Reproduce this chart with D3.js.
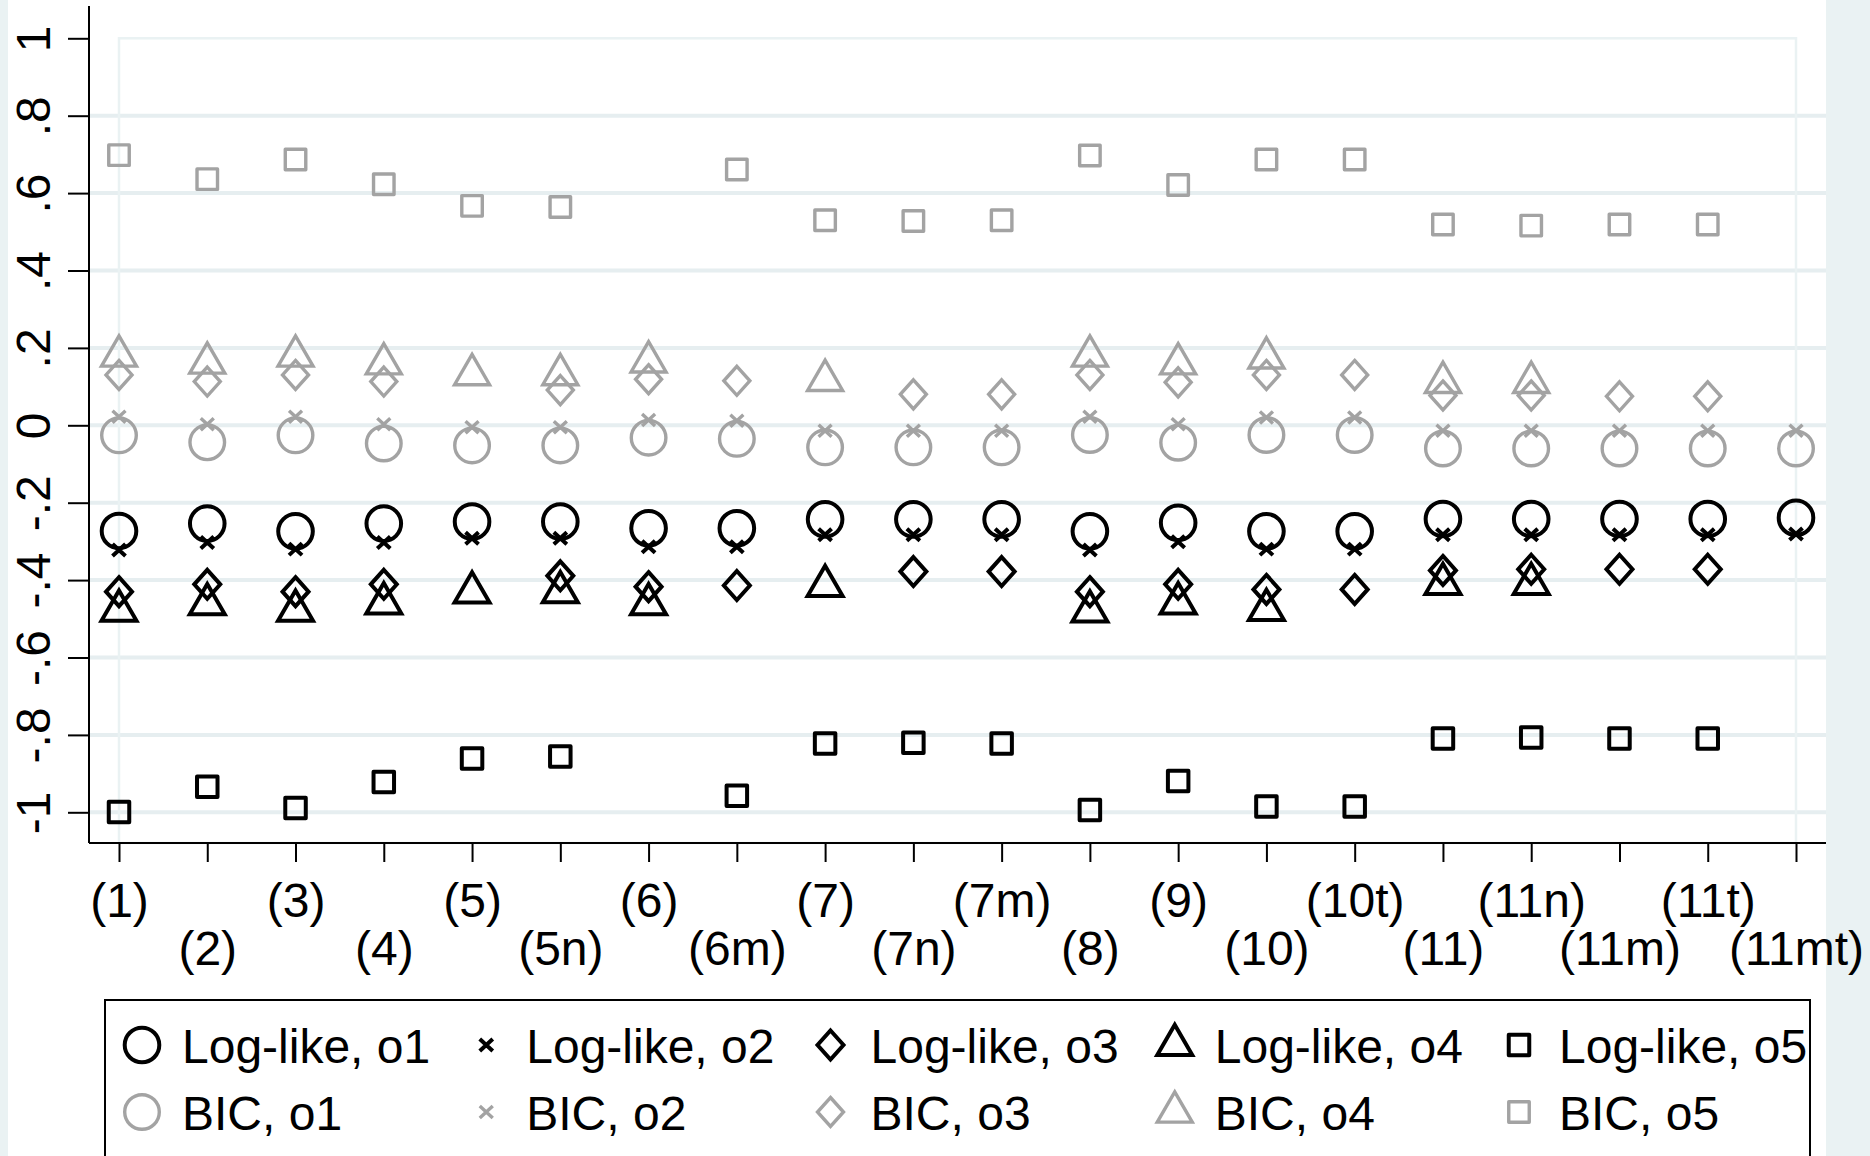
<!DOCTYPE html>
<html>
<head>
<meta charset="utf-8">
<script src="https://cdn.jsdelivr.net/npm/d3@7"></script>
<style>
  html, body { margin: 0; padding: 0; background: #eaf2f3; }
  svg { display: block; }
  text { font-family: "Liberation Sans", Arial, Helvetica, sans-serif; fill: #000; }
</style>
</head>
<body>
<svg id="chart" width="1870" height="1156"></svg>
<script>
// categories on the x axis
const categories = ["(1)", "(2)", "(3)", "(4)", "(5)", "(5n)", "(6)", "(6m)", "(7)", "(7n)",
  "(7m)", "(8)", "(9)", "(10)", "(10t)", "(11)", "(11n)", "(11m)", "(11t)", "(11mt)"];

const yTicks = [1, 0.8, 0.6, 0.4, 0.2, 0, -0.2, -0.4, -0.6, -0.8, -1];
const yTickLabels = ["1", ".8", ".6", ".4", ".2", "0", "-.2", "-.4", "-.6", "-.8", "-1"];
const yGrid = [0.8, 0.6, 0.4, 0.2, 0, -0.2, -0.4, -0.6, -0.8, -1];

// Log-likelihood series
const llO1 = [-0.273, -0.254, -0.274, -0.254, -0.249, -0.249, -0.266, -0.266, -0.243, -0.243,
  -0.243, -0.274, -0.252, -0.274, -0.274, -0.242, -0.242, -0.242, -0.242, -0.239];
const llO2 = [-0.322, -0.303, -0.320, -0.303, -0.292, -0.292, -0.314, -0.314, -0.283, -0.283,
  -0.283, -0.322, -0.301, -0.320, -0.320, -0.283, -0.283, -0.283, -0.283, -0.281];
const llO3 = [-0.430, -0.411, -0.430, -0.411, null, -0.389, -0.417, -0.414, null, -0.378,
  -0.378, -0.430, -0.411, -0.424, -0.424, -0.375, -0.372, -0.372, -0.372, null];
const llO4 = [-0.479, -0.462, -0.479, -0.460, -0.432, -0.431, -0.462, null, -0.415, null,
  null, -0.481, -0.460, -0.477, null, -0.410, -0.410, null, null, null];
const llO5 = [-0.999, -0.934, -0.989, -0.922, -0.861, -0.856, null, -0.957, -0.822, -0.820,
  -0.822, -0.994, -0.919, -0.985, -0.985, -0.809, -0.807, -0.809, -0.809, null];

// BIC series
const bicO1 = [-0.026, -0.044, -0.026, -0.047, -0.052, -0.052, -0.032, -0.035, -0.057, -0.057,
  -0.057, -0.025, -0.045, -0.025, -0.025, -0.060, -0.060, -0.060, -0.060, -0.060];
const bicO2 = [0.022, 0.003, 0.022, 0.003, -0.005, -0.005, 0.014, 0.012, -0.014, -0.014,
  -0.014, 0.022, 0.003, 0.020, 0.020, -0.014, -0.014, -0.014, -0.014, -0.014];
const bicO3 = [0.130, 0.113, 0.130, 0.113, null, 0.091, 0.119, 0.115, null, 0.080,
  0.080, 0.130, 0.111, 0.130, 0.130, 0.077, 0.077, 0.075, 0.075, null];
const bicO4 = [0.179, 0.161, 0.179, 0.159, 0.131, 0.131, 0.164, null, 0.116, null,
  null, 0.179, 0.159, 0.174, null, 0.111, 0.111, null, null, null];
const bicO5 = [0.698, 0.636, 0.687, 0.623, 0.567, 0.564, null, 0.661, 0.530, 0.528,
  0.530, 0.697, 0.621, 0.687, 0.687, 0.519, 0.516, 0.519, 0.519, null];

const seriesNames = ["Log-like, o1", "Log-like, o2", "Log-like, o3", "Log-like, o4", "Log-like, o5",
  "BIC, o1", "BIC, o2", "BIC, o3", "BIC, o4", "BIC, o5"];
const seriesValues = [llO1, llO2, llO3, llO4, llO5, bicO1, bicO2, bicO3, bicO4, bicO5];
const seriesShapes = ["circle", "x", "diamond", "triangle", "square",
  "circle", "x", "diamond", "triangle", "square"];

const BLACK = "#000000";
const GRAY = "#a3a3a3";
const GRID = "#e6eef0";
const FONT = 48;

const svg = d3.select("#chart");

// white graph area, light strips left and right
svg.append("rect").attr("x", 8).attr("y", 0).attr("width", 1826 - 8).attr("height", 1156)
  .attr("fill", "#ffffff");

const y = d3.scaleLinear().domain([-1, 1]).range([812.3, 38.3]);
const x = d3.scalePoint().domain(categories).range([119, 1796]);

const axisX0 = 89, axisX1 = 1826, axisY = 843;

// gridlines
svg.append("g").selectAll("line").data(yGrid).enter().append("line")
  .attr("x1", axisX0).attr("x2", axisX1)
  .attr("y1", d => y(d)).attr("y2", d => y(d))
  .attr("stroke", GRID).attr("stroke-width", 4);

// faint plot region outline
svg.append("rect")
  .attr("x", x(categories[0])).attr("y", y(1))
  .attr("width", x(categories[categories.length - 1]) - x(categories[0]))
  .attr("height", axisY - y(1))
  .attr("fill", "none").attr("stroke", "#eaf2f3").attr("stroke-width", 2.5);

// y axis
const yAxis = svg.append("g").attr("transform", `translate(${axisX0},0)`)
  .call(d3.axisLeft(y).tickValues(yTicks).tickSize(21)
    .tickFormat((d, i) => yTickLabels[i]));
yAxis.select(".domain").remove();
yAxis.selectAll(".tick line").attr("stroke", "#000").attr("stroke-width", 2);
yAxis.selectAll(".tick text")
  .attr("x", null).attr("dy", null).attr("y", null)
  .attr("font-size", FONT)
  .attr("text-anchor", "middle")
  .attr("transform", `translate(${50 - axisX0},0) rotate(-90)`);
svg.append("line").attr("x1", axisX0).attr("x2", axisX0).attr("y1", 6).attr("y2", axisY)
  .attr("stroke", "#000").attr("stroke-width", 2);

// x axis
const xAxis = svg.append("g").attr("transform", `translate(0,${axisY})`)
  .call(d3.axisBottom(x).tickSize(19));
xAxis.select(".domain").remove();
xAxis.selectAll(".tick line").attr("stroke", "#000").attr("stroke-width", 2);
xAxis.selectAll(".tick text")
  .attr("dy", null)
  .attr("y", (d, i) => i % 2 === 0 ? 917 - axisY : 965 - axisY)
  .attr("font-size", FONT);
svg.append("line").attr("x1", axisX0).attr("x2", axisX1).attr("y1", axisY).attr("y2", axisY)
  .attr("stroke", "#000").attr("stroke-width", 2);

// marker shapes
function markerPath(shape) {
  if (shape === "x") return "M-6.5,-6L6.5,6M-6.5,6L6.5,-6";
  if (shape === "diamond") return "M0,-14.5L13,0L0,14.5L-13,0Z";
  if (shape === "triangle") return "M0,-20.2L17.5,10.1L-17.5,10.1Z";
  if (shape === "square") return "M-10.25,-10.25H10.25V10.25H-10.25Z";
  return null;
}

function addMarker(sel, shape, color) {
  const sw = color === BLACK ? 4 : 3.4;
  if (shape === "circle") {
    sel.append("circle").attr("r", 17.3)
      .attr("fill", "none").attr("stroke", color).attr("stroke-width", sw);
  } else {
    sel.append("path").attr("d", markerPath(shape))
      .attr("fill", "none").attr("stroke", color).attr("stroke-width", sw)
      .attr("stroke-linejoin", shape === "square" ? "round" : "miter")
      .attr("stroke-linecap", "butt");
  }
}

// plot points
const plot = svg.append("g");
seriesValues.forEach((vals, s) => {
  const color = s < 5 ? BLACK : GRAY;
  const pts = vals.map((v, i) => ({ c: categories[i], v })).filter(p => p.v !== null);
  plot.append("g").selectAll("g").data(pts).enter().append("g")
    .attr("transform", d => `translate(${x(d.c)},${y(d.v)})`)
    .each(function () { addMarker(d3.select(this), seriesShapes[s], color); });
});

// legend
const legend = svg.append("g");
legend.append("rect").attr("x", 105).attr("y", 1000).attr("width", 1705).attr("height", 300)
  .attr("fill", "#ffffff").attr("stroke", "#000").attr("stroke-width", 2);
const legCol = d3.scaleLinear().domain([0, 4]).range([142, 1519]);
seriesNames.forEach((name, s) => {
  const col = s % 5, row = Math.floor(s / 5);
  const sx = legCol(col);
  const sy = row === 0 ? 1045 : 1112;
  const g = legend.append("g").attr("transform", `translate(${sx},${sy})`);
  addMarker(g, seriesShapes[s], row === 0 ? BLACK : GRAY);
  legend.append("text").attr("x", sx + 40).attr("y", row === 0 ? 1063 : 1130)
    .attr("font-size", FONT).text(name);
});
</script>
</body>
</html>
